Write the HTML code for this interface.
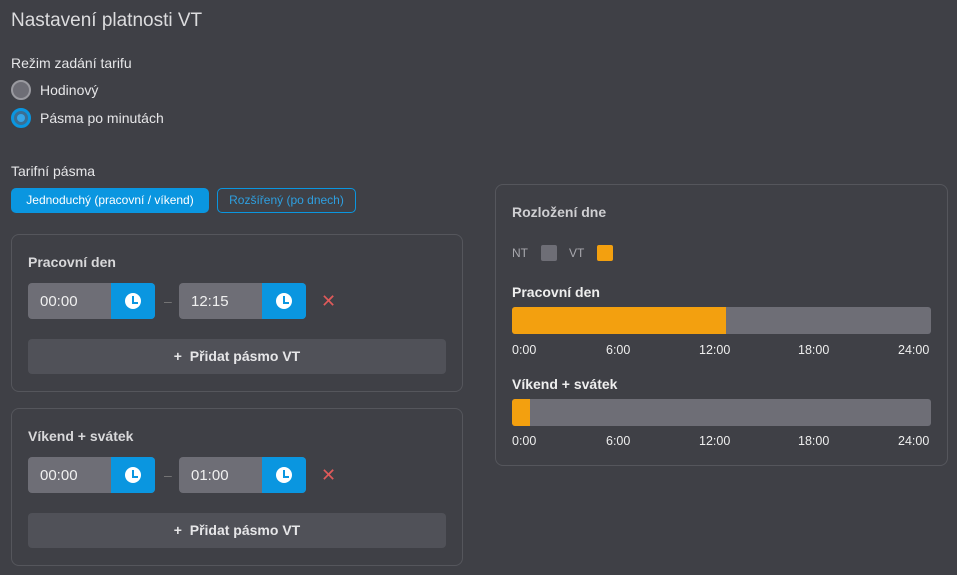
<!DOCTYPE html>
<html><head><meta charset="utf-8"><style>
*{margin:0;padding:0;box-sizing:border-box}
body{width:957px;height:575px;background:#3f4046;font-family:"Liberation Sans",sans-serif;color:#e6e6e8;position:relative;overflow:hidden}
.a{position:absolute;white-space:nowrap}
.card{position:absolute;border:1px solid #55565c;border-radius:8px}
.inp{position:absolute;height:36px;width:127px;border-radius:4px;overflow:hidden;background:#6e6e76}
.inp span{position:absolute;left:12px;top:10px;font-size:15px;color:#f0f0f0}
.inp i{position:absolute;right:0;top:0;width:44px;height:36px;background:#0a96e0}
.inp i:before{content:"";position:absolute;left:14px;top:10px;width:16px;height:16px;border-radius:50%;background:#fff}
.inp i:after{content:"";position:absolute;left:21px;top:13px;width:4px;height:6px;border-left:2px solid #0a96e0;border-bottom:2px solid #0a96e0}
.add{position:absolute;left:28px;width:418px;height:35px;background:#505158;border-radius:4px;text-align:center;font-size:14px;font-weight:bold;line-height:35px;color:#e6e6e8}
.x{position:absolute;color:#e05a5a;font-size:18px}
.dash{position:absolute;color:#777;font-size:14px}
.t{position:absolute;font-size:12.5px;color:#eee}
</style></head><body>
<div class="a" style="left:11px;top:10px;font-size:19px;color:#dcdcde">Nastavení platnosti VT</div>
<div class="a" style="left:11px;top:55px;font-size:14px">Režim zadání tarifu</div>
<div class="a" style="left:11px;top:80px;width:20px;height:20px;border-radius:50%;background:#6e6e76;border:2px solid #9a9aa0"></div>
<div class="a" style="left:40px;top:82px;font-size:14px">Hodinový</div>
<div class="a" style="left:11px;top:108px;width:20px;height:20px;border-radius:50%;background:#3b6e92;border:3px solid #0a96e0"></div>
<div class="a" style="left:17px;top:114px;width:8px;height:8px;border-radius:50%;background:#35a6e8"></div>
<div class="a" style="left:40px;top:110px;font-size:14px">Pásma po minutách</div>
<div class="a" style="left:11px;top:163px;font-size:14px">Tarifní pásma</div>
<div class="a" style="left:11px;top:188px;width:198px;height:25px;background:#0a96e0;border-radius:5px;font-size:12px;color:#fff;line-height:25px;text-align:center">Jednoduchý (pracovní / víkend)</div>
<div class="a" style="left:217px;top:188px;width:139px;height:25px;border:1px solid #0a96e0;border-radius:5px;font-size:12px;color:#2e9fe0;line-height:23px;text-align:center">Rozšířený (po dnech)</div>

<div class="card" style="left:11px;top:234px;width:452px;height:158px"></div>
<div class="a" style="left:28px;top:254px;font-size:14px;font-weight:bold;color:#d8d8da">Pracovní den</div>
<div class="inp" style="left:28px;top:283px"><span>00:00</span><i></i></div>
<div class="dash" style="left:164px;top:293px">–</div>
<div class="inp" style="left:179px;top:283px"><span>12:15</span><i></i></div>
<div class="x" style="left:321px;top:291px">✕</div>
<div class="add" style="top:339px">+&nbsp; Přidat pásmo VT</div>

<div class="card" style="left:11px;top:408px;width:452px;height:158px"></div>
<div class="a" style="left:28px;top:428px;font-size:14px;font-weight:bold;color:#d8d8da">Víkend + svátek</div>
<div class="inp" style="left:28px;top:457px"><span>00:00</span><i></i></div>
<div class="dash" style="left:164px;top:467px">–</div>
<div class="inp" style="left:179px;top:457px"><span>01:00</span><i></i></div>
<div class="x" style="left:321px;top:465px">✕</div>
<div class="add" style="top:513px">+&nbsp; Přidat pásmo VT</div>

<div class="card" style="left:495px;top:184px;width:453px;height:282px"></div>
<div class="a" style="left:512px;top:204px;font-size:14px;font-weight:bold;color:#cfcfd2">Rozložení dne</div>
<div class="a" style="left:512px;top:246px;font-size:12px;color:#a8a8ae">NT</div>
<div class="a" style="left:541px;top:245px;width:16px;height:16px;background:#6e6e76;border-radius:2px"></div>
<div class="a" style="left:569px;top:246px;font-size:12px;color:#a8a8ae">VT</div>
<div class="a" style="left:597px;top:245px;width:16px;height:16px;background:#f3a00f;border-radius:2px"></div>
<div class="a" style="left:512px;top:284px;font-size:14px;font-weight:bold;color:#eee">Pracovní den</div>
<div class="a" style="left:512px;top:307px;width:419px;height:27px;background:#6e6e76;border-radius:3px;overflow:hidden"><div style="width:214px;height:27px;background:#f3a00f"></div></div>
<div class="t" style="left:512px;top:343px">0:00</div><div class="t" style="left:606px;top:343px">6:00</div><div class="t" style="left:699px;top:343px">12:00</div><div class="t" style="left:798px;top:343px">18:00</div><div class="t" style="left:898px;top:343px">24:00</div>
<div class="a" style="left:512px;top:376px;font-size:14px;font-weight:bold;color:#eee">Víkend + svátek</div>
<div class="a" style="left:512px;top:399px;width:419px;height:27px;background:#6e6e76;border-radius:3px;overflow:hidden"><div style="width:18px;height:27px;background:#f3a00f"></div></div>
<div class="t" style="left:512px;top:434px">0:00</div><div class="t" style="left:606px;top:434px">6:00</div><div class="t" style="left:699px;top:434px">12:00</div><div class="t" style="left:798px;top:434px">18:00</div><div class="t" style="left:898px;top:434px">24:00</div>
</body></html>
